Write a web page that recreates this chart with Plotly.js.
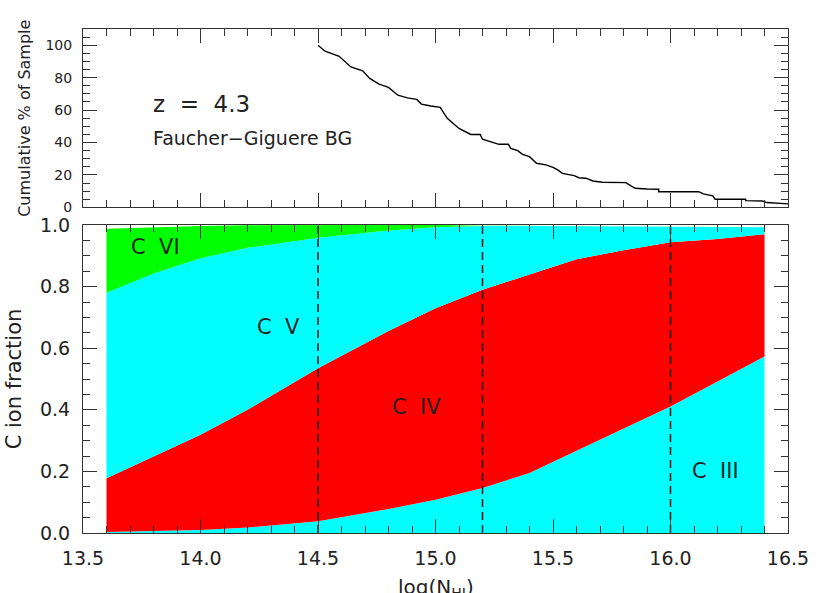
<!DOCTYPE html>
<html>
<head>
<meta charset="utf-8">
<script src="https://cdn.plot.ly/plotly-3.0.1.min.js"></script>
<style>html,body{margin:0;padding:0;background:#fff;}#chart{width:830px;height:593px;}</style>
</head>
<body>
<div id="chart"></div>
<script>
// Cumulative % of sample vs log N(HI)
const cumX = [14.50,14.53,14.59,14.64,14.69,14.72,14.76,14.80,14.84,14.88,14.92,14.94,14.98,15.02,15.05,15.08,15.10,15.15,15.19,15.20,15.23,15.27,15.31,15.32,15.35,15.37,15.40,15.43,15.47,15.50,15.52,15.54,15.59,15.61,15.64,15.67,15.71,15.81,15.83,15.85,15.90,15.95,15.95,16.12,16.14,16.18,16.19,16.32,16.32,16.39,16.41,16.45,16.47,16.50];
const cumY = [100,96.3,93.2,86.6,84.2,79.5,76.0,74.0,69.2,67.5,66.6,63.7,62.5,61.7,54.9,51.4,48.7,45.0,45.0,42.0,40.5,38.9,38.9,36.4,35.0,32.7,31.3,27.2,26.2,24.7,23.1,21.0,19.6,18.3,18.0,16.3,15.5,15.3,13.4,11.8,11.4,11.2,9.7,9.7,8.3,7.1,5.0,5.0,4.2,4.0,3.0,2.6,2.2,2.2];

// Carbon ion fractions vs log N(HI)
const ionX     = [13.6,13.8,14.0,14.2,14.5,14.8,15.0,15.2,15.4,15.6,15.8,16.0,16.2,16.4];
const fracCIII = [0.003,0.006,0.010,0.018,0.038,0.078,0.108,0.146,0.195,0.267,0.339,0.411,0.492,0.573];
const fracCIV  = [0.175,0.243,0.309,0.382,0.497,0.578,0.622,0.644,0.645,0.622,0.579,0.533,0.463,0.397];
const fracCV   = [0.602,0.594,0.573,0.526,0.424,0.326,0.263,0.207,0.157,0.107,0.078,0.051,0.039,0.023];
const fracCVI  = [0.208,0.150,0.105,0.073,0.041,0.018,0.007,0.001,0,0,0,0,0,0];

const cutLines = [14.5, 15.2, 16.0];

const ionNames = ['C\u00a0\u00a0III','C\u00a0\u00a0IV','C\u00a0\u00a0V','C\u00a0\u00a0VI'];
const ionLabelX = [16.19, 14.92, 14.33, 13.81];
const ionLabelY = [0.20, 0.41, 0.67, 0.93];

const FONT = 'DejaVu Sans, Liberation Sans, sans-serif';
const AX = '#333';
const TXT = '#222';

const fills = [
  {y: fracCIII, c: '#00ffff'},
  {y: fracCIV,  c: '#ff0000'},
  {y: fracCV,   c: '#00ffff'},
  {y: fracCVI,  c: '#00ff00'}
];

const traces = fills.map(f => ({
  x: ionX, y: f.y, xaxis: 'x2', yaxis: 'y2',
  type: 'scatter', mode: 'lines', stackgroup: 'ions',
  line: {width: 0, color: f.c}, fillcolor: f.c, hoverinfo: 'skip', showlegend: false
}));

// dashed vertical lines
const dx = [], dy = [];
cutLines.forEach(v => { dx.push(v, v, null); dy.push(0, 1, null); });
traces.push({x: dx, y: dy, xaxis: 'x2', yaxis: 'y2', type: 'scatter', mode: 'lines',
  line: {color: '#111', width: 1.5, dash: '8px,5px'}, showlegend: false, hoverinfo: 'skip'});

traces.push({x: cumX, y: cumY, xaxis: 'x', yaxis: 'y', type: 'scatter', mode: 'lines',
  line: {color: '#000', width: 1.4}, showlegend: false});

const annotations = [
  {text: 'z\u00a0\u00a0=\u00a0\u00a04.3', xref: 'x', yref: 'y', x: 13.79, y: 64, xanchor: 'left', yanchor: 'middle', showarrow: false, font: {family: FONT, size: 23, color: TXT}},
  {text: 'Faucher\u2212Giguere BG', xref: 'x', yref: 'y', x: 13.79, y: 43, xanchor: 'left', yanchor: 'middle', showarrow: false, font: {family: FONT, size: 19, color: TXT}},
  {text: 'log(N<sub>HI</sub>)', xref: 'paper', yref: 'paper', x: 0.5, y: -0.080, xanchor: 'center', yanchor: 'top', showarrow: false, font: {family: FONT, size: 20, color: TXT}}
];
ionNames.forEach((n, i) => annotations.push({text: n, xref: 'x2', yref: 'y2', x: ionLabelX[i], y: ionLabelY[i],
  showarrow: false, xanchor: 'center', yanchor: 'middle', font: {family: FONT, size: 21, color: TXT}}));

const baseX = {
  range: [13.5, 16.5], dtick: 0.5, tick0: 13.5, ticks: 'inside', ticklen: 14, tickwidth: 1, tickcolor: AX,
  minor: {dtick: 0.1, ticks: 'inside', ticklen: 7, tickcolor: AX},
  showline: true, linecolor: AX, linewidth: 1, mirror: 'ticks', showgrid: false, zeroline: false
};

const layout = {
  width: 830, height: 593,
  margin: {l: 83, r: 42, t: 29, b: 60},
  paper_bgcolor: '#fff', plot_bgcolor: '#fff',
  font: {family: FONT, color: TXT},
  xaxis: Object.assign({}, baseX, {anchor: 'y', showticklabels: false}),
  yaxis: {domain: [0.646, 1], range: [0, 110], dtick: 20, ticks: 'inside', ticklen: 14, tickcolor: AX,
    minor: {dtick: 5, ticks: 'inside', ticklen: 7, tickcolor: AX},
    showline: true, linecolor: AX, mirror: 'ticks', showgrid: false, zeroline: false,
    tickfont: {size: 14, family: FONT, color: TXT}, ticklabelstandoff: 7,
    title: {text: 'Cumulative % of Sample', font: {size: 16, family: FONT, color: TXT}, standoff: 10}},
  xaxis2: Object.assign({}, baseX, {anchor: 'y2', showticklabels: true, tickformat: '.1f',
    tickfont: {size: 19, family: FONT, color: TXT}, ticklabelstandoff: 8}),
  yaxis2: {domain: [0, 0.611], range: [0, 1], dtick: 0.2, tickformat: '.1f', ticks: 'inside', ticklen: 14, tickcolor: AX,
    minor: {dtick: 0.05, ticks: 'inside', ticklen: 7, tickcolor: AX},
    showline: true, linecolor: AX, mirror: 'ticks', showgrid: false, zeroline: false,
    tickfont: {size: 19, family: FONT, color: TXT}, ticklabelstandoff: 8,
    title: {text: 'C ion fraction', font: {size: 21, family: FONT, color: TXT}, standoff: 12}},
  annotations: annotations,
  showlegend: false
};

Plotly.newPlot('chart', traces, layout, {displayModeBar: false, staticPlot: true});
</script>
</body>
</html>
